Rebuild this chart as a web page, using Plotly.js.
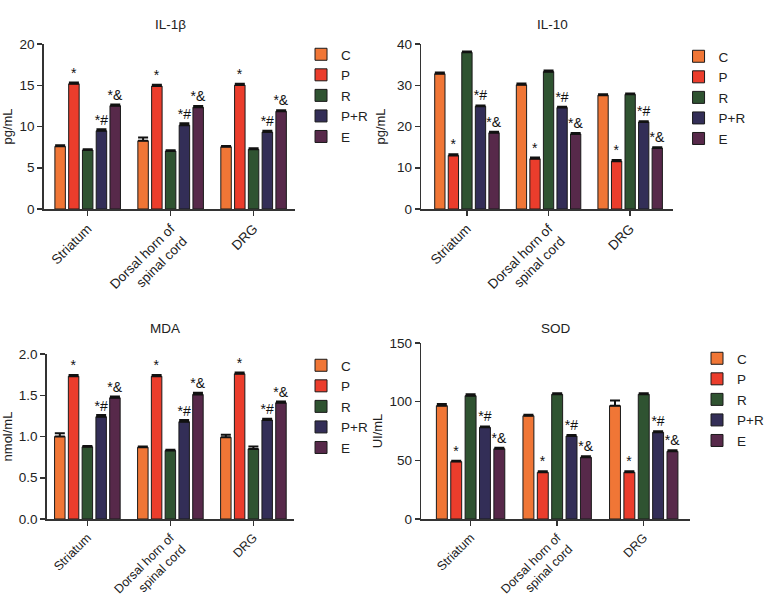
<!DOCTYPE html>
<html>
<head>
<meta charset="utf-8">
<script src="https://cdn.plot.ly/plotly-3.0.1.min.js"></script>
<style>html,body{margin:0;padding:0;background:#fff;}#chart{width:769px;height:600px;}</style>
</head>
<body>
<div id="chart"></div>
<script>
// ---- data ----
const categories = ['Striatum', 'Dorsal horn of<br>spinal cord', 'DRG'];
const groups = ['C', 'P', 'R', 'P+R', 'E'];
const groupColors = ['#F07636', '#EB3D2C', '#2F5331', '#332E57', '#57294A'];
const marks = [null, ['*', '*', '*'], null, ['*#', '*#', '*#'], ['*&', '*&', '*&']];

// IL-1beta (pg/mL): rows = C, P, R, P+R, E ; columns = categories
const il1bValues = [
  [7.6, 8.27, 7.55],
  [15.18, 14.9, 15.02],
  [7.15, 7.03, 7.23],
  [9.48, 10.16, 9.32],
  [12.53, 12.33, 11.85]
];
const il1bErrors = [
  [0.12, 0.4, 0.08],
  [0.15, 0.15, 0.15],
  [0.1, 0.08, 0.12],
  [0.18, 0.22, 0.15],
  [0.15, 0.15, 0.12]
];
// IL-10 (pg/mL)
const il10Values = [
  [32.8, 30.1, 27.6],
  [13.0, 12.2, 11.6],
  [37.98, 33.3, 27.8],
  [24.9, 24.6, 21.1],
  [18.5, 18.2, 14.8]
];
const il10Errors = [
  [0.3, 0.3, 0.2],
  [0.3, 0.3, 0.3],
  [0.2, 0.3, 0.2],
  [0.2, 0.2, 0.2],
  [0.2, 0.2, 0.2]
];
// MDA (nmol/mL)
const mdaValues = [
  [1.0, 0.87, 0.99],
  [1.73, 1.73, 1.76],
  [0.875, 0.83, 0.85],
  [1.24, 1.18, 1.2],
  [1.47, 1.51, 1.41]
];
const mdaErrors = [
  [0.04, 0.01, 0.03],
  [0.015, 0.015, 0.015],
  [0.01, 0.01, 0.03],
  [0.02, 0.02, 0.015],
  [0.015, 0.02, 0.015]
];
// SOD (UI/mL)
const sodValues = [
  [96.6, 88.0, 96.6],
  [48.9, 39.8, 39.8],
  [105.1, 106.3, 106.3],
  [78.1, 70.7, 73.9],
  [59.9, 52.6, 57.7]
];
const sodErrors = [
  [1.5, 0.8, 4.5],
  [0.8, 0.8, 0.8],
  [1.2, 0.8, 0.8],
  [0.8, 0.8, 0.8],
  [0.8, 0.8, 0.8]
];

const panels = [
  {title: 'IL-1β', unit: 'pg/mL', values: il1bValues, errors: il1bErrors},
  {title: 'IL-10', unit: 'pg/mL', values: il10Values, errors: il10Errors},
  {title: 'MDA', unit: 'nmol/mL', values: mdaValues, errors: mdaErrors},
  {title: 'SOD', unit: 'UI/mL', values: sodValues, errors: sodErrors}
];

// ---- layout geometry (pixels) ----
const W = 769, H = 600;
const geo = [
  {x0: 44, x1: 297, yTop: 44, yBot: 209, range: [0, 20], dtick: 5, fmt: '', xr: [-0.53, 2.5], standoff: 8,
   tx: 172, ty: 25, lx: 303, ly: 39, xfs: 13.5},
  {x0: 424, x1: 677, yTop: 44, yBot: 209, range: [0, 40], dtick: 10, fmt: '', xr: [-0.56, 2.52], standoff: 8,
   tx: 556, ty: 25, lx: 683, ly: 41, xfs: 13.5},
  {x0: 47, x1: 296, yTop: 354, yBot: 519, range: [0, 2], dtick: 0.5, fmt: '.1f', xr: [-0.49, 2.49], standoff: 4,
   tx: 166, ty: 328, lx: 303, ly: 350, xfs: 12.5},
  {x0: 424, x1: 695, yTop: 343, yBot: 519, range: [0, 150], dtick: 50, fmt: '', xr: [-0.57, 2.54], standoff: 4,
   tx: 560, ty: 328, lx: 702, ly: 343, xfs: 12.5}
];

const FONT = '"Liberation Sans", Arial, Helvetica, sans-serif';
const traces = [];
const layout = {
  width: W, height: H,
  margin: {l: 0, r: 0, t: 0, b: 0},
  paper_bgcolor: '#fff', plot_bgcolor: '#fff',
  font: {family: FONT, size: 12, color: '#222'},
  barmode: 'group',
  bargap: 0.17,
  bargroupgap: 0.24,
  showlegend: true,
  annotations: []
};

panels.forEach((p, i) => {
  const g = geo[i];
  const n = i + 1;
  const xa = n === 1 ? 'x' : 'x' + n;
  const ya = n === 1 ? 'y' : 'y' + n;
  const legName = n === 1 ? 'legend' : 'legend' + n;
  groups.forEach((grp, k) => {
    traces.push({
      type: 'bar',
      name: grp,
      x: categories,
      y: p.values[k],
      xaxis: xa, yaxis: ya,
      legend: legName,
      marker: {color: groupColors[k], line: {color: '#1a1a1a', width: 1}},
      error_y: {type: 'data', array: p.errors[k], arrayminus: p.errors[k].map(() => 0), symmetric: false,
                color: '#111', thickness: 2, width: 5},
      text: marks[k] || undefined,
      textposition: marks[k] ? 'outside' : 'none',
      outsidetextfont: {family: FONT, size: 14, color: '#111'},
      constraintext: 'none',
      cliponaxis: false,
      hoverinfo: 'x+y+name'
    });
  });
  const xKey = n === 1 ? 'xaxis' : 'xaxis' + n;
  const yKey = n === 1 ? 'yaxis' : 'yaxis' + n;
  layout[xKey] = {
    domain: [g.x0 / W, g.x1 / W],
    anchor: ya,
    range: g.xr,
    showgrid: false, zeroline: false,
    showline: true, linecolor: '#333', linewidth: 1.5,
    ticks: 'outside', ticklen: 5, tickwidth: 1.5, tickcolor: '#333',
    tickangle: -45,
    tickfont: {family: FONT, size: g.xfs, color: '#222'},
    fixedrange: true
  };
  layout[yKey] = {
    domain: [1 - g.yBot / H, 1 - g.yTop / H],
    anchor: xa,
    range: g.range,
    dtick: g.dtick,
    tick0: 0,
    tickformat: g.fmt,
    showgrid: false, zeroline: false,
    showline: true, linecolor: '#333', linewidth: 1.5,
    ticks: 'outside', ticklen: 5, tickwidth: 1.5, tickcolor: '#333',
    tickfont: {family: FONT, size: 13.5, color: '#222'},
    title: {text: p.unit, font: {family: FONT, size: 13, color: '#222'}, standoff: g.standoff},
    fixedrange: true
  };
  layout[legName] = {
    x: g.lx / W, y: 1 - g.ly / H, xanchor: 'left', yanchor: 'top',
    font: {family: FONT, size: 13.5, color: '#222'},
    bgcolor: 'rgba(0,0,0,0)',
    tracegroupgap: 0
  };
  layout.annotations.push({
    text: p.title, xref: 'paper', yref: 'paper',
    x: g.tx / W, y: 1 - g.ty / H, xanchor: 'center', yanchor: 'middle',
    showarrow: false, font: {family: FONT, size: 13.5, color: '#222'}
  });
});

Plotly.newPlot('chart', traces, layout, {displayModeBar: false, staticPlot: true});
</script>
</body>
</html>
